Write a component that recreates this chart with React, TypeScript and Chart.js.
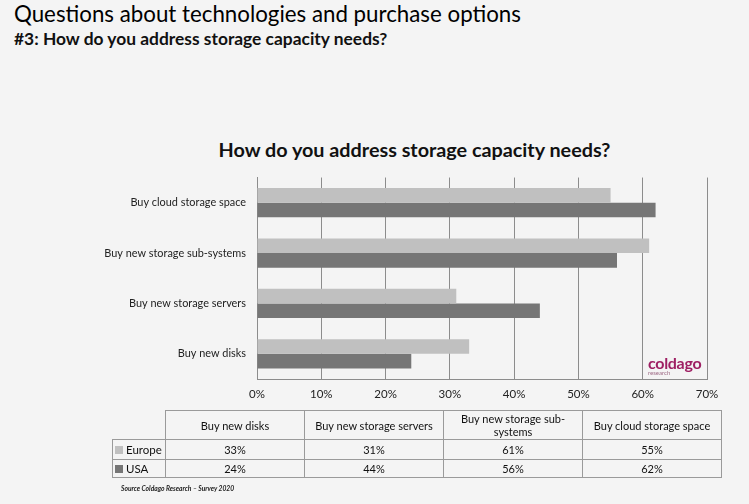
import React, { useEffect, useRef } from "react";
import { Chart, registerables } from "chart.js";

Chart.register(...registerables);

const pageTitle = "Questions about technologies and purchase options";
const pageSubtitle = "#3: How do you address storage capacity needs?";
const chartTitle = "How do you address storage capacity needs?";
const sourceNote = "Source Coldago Research – Survey 2020";

// order as in the data table (bottom to top in the chart)
const categories = ["Buy new disks", "Buy new storage servers", "Buy new storage sub-systems", "Buy cloud storage space"];
const tableHeaders = ["Buy new disks", "Buy new storage servers", "Buy new storage sub-\nsystems", "Buy cloud storage space"];
const europe = [33, 31, 61, 55];
const usa = [24, 44, 56, 62];
const seriesNames = ["Europe", "USA"];
const seriesColors = ["#c0c0c0", "#767676"];
const xTicks = [0, 10, 20, 30, 40, 50, 60, 70];

const FONT = "Lato, 'Open Sans', sans-serif";

export default function App() {
  const ref = useRef<HTMLCanvasElement | null>(null);

  useEffect(() => {
    if (!ref.current) return;
    const rev = <T,>(a: T[]) => a.slice().reverse();
    const chart = new Chart(ref.current, {
      type: "bar",
      data: {
        labels: rev(categories),
        datasets: [
          { label: seriesNames[0], data: rev(europe), backgroundColor: seriesColors[0], categoryPercentage: 0.58, barPercentage: 1 },
          { label: seriesNames[1], data: rev(usa), backgroundColor: seriesColors[1], categoryPercentage: 0.58, barPercentage: 1 },
        ],
      },
      options: {
        indexAxis: "y",
        animation: false,
        responsive: false,
        maintainAspectRatio: false,
        layout: { padding: { top: 6, right: 42, left: 0, bottom: 0 } },
        plugins: { legend: { display: false }, tooltip: { enabled: false }, title: { display: false } },
        scales: {
          x: {
            min: xTicks[0],
            max: xTicks[xTicks.length - 1],
            afterFit: (s: any) => { s.height = 33; },
            afterBuildTicks: (s: any) => { s.ticks = xTicks.map((v) => ({ value: v })); },
            ticks: { callback: (v: any) => v + "%", color: "#222", font: { family: FONT, size: 11.5 }, padding: 8 },
            grid: { color: "#8c8c8c", drawTicks: false, lineWidth: 1 },
            border: { display: true, color: "#8c8c8c" },
          },
          y: {
            afterFit: (s: any) => { s.width = 257; },
            ticks: { color: "#222", font: { family: FONT, size: 10.9 }, padding: 11 },
            grid: { display: false, drawTicks: false },
            border: { display: true, color: "#8c8c8c" },
          },
        },
      },
    });
    return () => chart.destroy();
  }, []);

  const cell: React.CSSProperties = { border: "1px solid #9a9a9a", textAlign: "center", padding: 0, fontSize: 11, width: 138 };

  return (
    <div style={{ position: "fixed", left: 0, top: 0, width: 749, height: 504, background: "#f4f4f4", fontFamily: FONT, color: "#111", overflow: "hidden" }}>
      <div style={{ position: "absolute", left: 14, top: 0, fontSize: 22.3, lineHeight: "28px", whiteSpace: "nowrap", color: "#000" }}>{pageTitle}</div>
      <div style={{ position: "absolute", left: 14, top: 28, fontSize: 17.4, fontWeight: 700, lineHeight: "22px", whiteSpace: "nowrap" }}>{pageSubtitle}</div>
      <div style={{ position: "absolute", left: 0, width: 829, top: 136, textAlign: "center", fontSize: 19.8, fontWeight: 700, lineHeight: "26px", whiteSpace: "nowrap" }}>{chartTitle}</div>
      <canvas ref={ref} width={749} height={252} style={{ position: "absolute", left: 0, top: 160, width: 749, height: 252 }} />
      <div style={{ position: "absolute", left: 648, top: 355, color: "#9e1f63", fontWeight: 700, fontSize: 16, lineHeight: "16px", letterSpacing: -0.3 }}>coldago</div>
      <div style={{ position: "absolute", left: 648, top: 369, color: "#9e6a85", fontSize: 6, lineHeight: "7px" }}>research</div>
      <table style={{ position: "absolute", left: 112, top: 410, borderCollapse: "collapse", tableLayout: "fixed", fontFamily: FONT, color: "#111" }}>
        <tbody>
          <tr style={{ height: 29 }}>
            <td style={{ width: 50, padding: 0, border: "none", borderRight: "1px solid #9a9a9a", borderBottom: "1px solid #9a9a9a" }}></td>
            {tableHeaders.map((h, i) => (
              <td key={i} style={{ ...cell, lineHeight: "13px", whiteSpace: "pre-line" }}>{h}</td>
            ))}
          </tr>
          {[europe, usa].map((row, r) => (
            <tr key={r} style={{ height: r === 0 ? 20 : 18 }}>
              <td style={{ ...cell, width: 50, textAlign: "left", paddingLeft: 2, whiteSpace: "nowrap", fontSize: 11.5 }}>
                <span style={{ display: "inline-block", width: 8, height: 8, background: seriesColors[r], marginRight: 3 }} />
                {seriesNames[r]}
              </td>
              {row.map((v, i) => (
                <td key={i} style={cell}>{v}%</td>
              ))}
            </tr>
          ))}
        </tbody>
      </table>
      <div style={{ position: "absolute", left: 121, top: 484, fontSize: 6.7, fontStyle: "italic", fontWeight: 700, color: "#222", whiteSpace: "nowrap" }}>{sourceNote}</div>
    </div>
  );
}
